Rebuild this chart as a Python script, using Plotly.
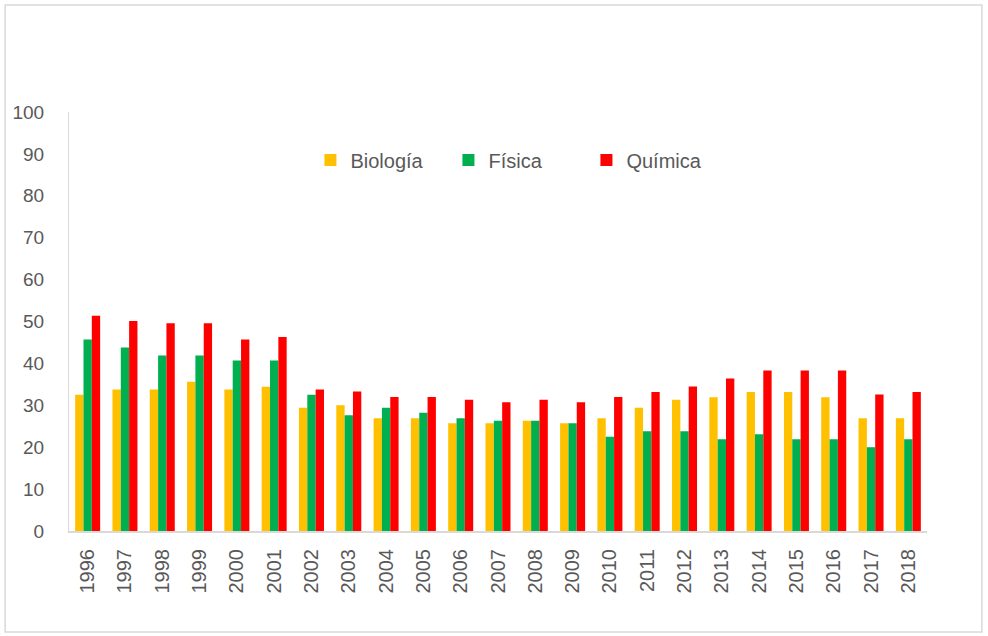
import plotly.graph_objects as go

# Percentages per year and subject
years = [str(y) for y in range(1996, 2019)]
biologia = [32.5, 33.8, 33.8, 35.6, 33.8, 34.4, 29.4, 30.0, 26.9, 26.9, 25.7, 25.7,
            26.3, 25.7, 26.9, 29.4, 31.3, 31.9, 33.2, 33.2, 31.9, 26.9, 26.9]
fisica = [45.7, 43.8, 41.9, 41.9, 40.7, 40.7, 32.5, 27.6, 29.4, 28.2, 26.9, 26.3,
          26.3, 25.7, 22.5, 23.8, 23.8, 21.9, 23.1, 21.9, 21.9, 20.0, 21.9]
quimica = [51.4, 50.1, 49.6, 49.6, 45.7, 46.3, 33.8, 33.3, 32.0, 32.0, 31.3, 30.7,
           31.3, 30.7, 32.0, 33.2, 34.5, 36.4, 38.3, 38.3, 38.3, 32.6, 33.2]

series = [
    ("Biología", biologia, "#FFC000"),
    ("Física", fisica, "#00B050"),
    ("Química", quimica, "#FF0000"),
]

fig = go.Figure()
for name, vals, color in series:
    fig.add_trace(go.Bar(x=years, y=vals, name=name, marker_color=color,
                         marker_line_width=0))

W, H = 988, 636
L, R, T, B = 67, 61, 112, 105
pw, ph = W - L - R, H - T - B

def px_x(v):
    return (v - L) / pw

def px_y(v):
    return (H - B - v) / ph

font = "Liberation Sans, Arial, sans-serif"
fig.update_layout(
    width=W, height=H,
    margin=dict(l=L, r=R, t=T, b=B),
    paper_bgcolor="white", plot_bgcolor="white",
    barmode="group", bargap=0.33, bargroupgap=0,
    font=dict(family=font, color="#595959", size=18),
    showlegend=True,
    legend=dict(orientation="h", x=px_x(309), y=px_y(160), xanchor="left",
                yanchor="middle", font=dict(size=20, color="#595959"),
                itemwidth=30, entrywidth=93, bgcolor="rgba(0,0,0,0)"),
    xaxis=dict(type="category", tickangle=-90, showgrid=False, showline=True,
               linecolor="#d9d9d9", linewidth=2, ticks="", ticklabelstandoff=8,
               tickfont=dict(size=20, color="#595959")),
    yaxis=dict(range=[0, 100], dtick=10, showgrid=False, showline=True,
               linecolor="#d9d9d9", linewidth=1, ticks="", zeroline=False,
               ticklabelstandoff=20, tickfont=dict(size=19, color="#595959")),
    shapes=[dict(type="rect", xref="paper", yref="paper",
                 x0=px_x(3), x1=px_x(982), y0=px_y(632), y1=px_y(5),
                 line=dict(color="#d9d9d9", width=1.5), layer="below")],
)

fig.write_html("out.html")
